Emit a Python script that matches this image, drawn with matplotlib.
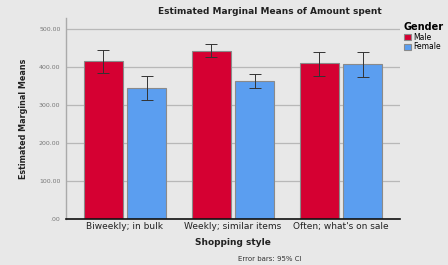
#!/usr/bin/env python3
from matplotlib import pyplot as plt
import numpy as np

categories = ["Biweekly; in bulk", "Weekly; similar items", "Often; what's on sale"]
groups = ["Male", "Female"]
male_mean = [414, 442, 410]
male_lo = [383, 425, 375]
male_hi = [445, 460, 440]
female_mean = [344, 363, 407]
female_lo = [313, 345, 373]
female_hi = [376, 381, 440]
yticks = [0, 100, 200, 300, 400, 500]
yticklabels = [".00", "100.00", "200.00", "300.00", "400.00", "500.00"]

bg = '#e8e8e8'
colors = ['#d50032', '#5b9ef0']

plt.rcParams['font.family'] = ['DejaVu Sans']
fig = plt.figure(figsize=(4.48, 2.65), dpi=100, facecolor=bg)
ax = fig.add_axes((66/448, 1-219/265, 334/448, 201/265), facecolor=bg)

x = np.arange(len(categories))
w = 0.36
off = 0.2
for i, (m, lo, hi) in enumerate([(male_mean, male_lo, male_hi), (female_mean, female_lo, female_hi)]):
  xs = x + (i*2-1)*off
  ax.bar(xs, m, w, color=colors[i], edgecolor='#8a8a8a', lw=0.8, zorder=2, label=groups[i])
  m = np.array(m)
  err = [m-np.array(lo), np.array(hi)-m]
  ax.errorbar(xs, m, yerr=err, fmt='none', ecolor='#333333', elinewidth=0.7, capsize=4, capthick=0.7, zorder=3)

ax.set_xlim(-0.546, 2.546)
ax.set_ylim(0, 528)
ax.set_yticks(yticks)
ax.set_yticklabels(yticklabels, fontsize=4.5, color='#777777')
ax.set_xticks(x)
ax.set_xticklabels(categories, fontsize=6.5, color='#222222')
ax.tick_params(axis='both', length=0, pad=2)
ax.tick_params(axis='y', pad=4)
ax.yaxis.grid(True, color='#b8b8b8', lw=0.9, zorder=0)
for s in ('top', 'right'):
  ax.spines[s].set_visible(False)
ax.spines['left'].set_color('#aaaaaa')
ax.spines['left'].set_linewidth(1.0)
ax.spines['bottom'].set_color('#111111')
ax.spines['bottom'].set_linewidth(1.2)

ax.set_xlabel("Shopping style", fontsize=6.5, fontweight='bold', color='#222222', labelpad=5)
ax.set_ylabel("Estimated Marginal Means", fontsize=5.8, fontweight='bold', color='#222222', labelpad=8)
fig.text(270/448, 1-12/265, "Estimated Marginal Means of Amount spent", ha='center', va='center',
         fontsize=6.5, fontweight='bold', color='#222222')
fig.text(270/448, 1-259/265, "Error bars: 95% CI", ha='center', va='center', fontsize=5, color='#333333')

leg = ax.legend(loc='upper left', bbox_to_anchor=(1.0, 1.0), frameon=False, title="Gender",
                fontsize=5.5, title_fontsize=7, handlelength=0.9, handleheight=0.9,
                handletextpad=0.3, labelspacing=0.1, borderaxespad=0.2, borderpad=0.3)
leg.get_title().set_fontweight('bold')
leg._legend_box.align = 'left'

plt.savefig('out.png', dpi=100, facecolor=bg)
plt.close()
